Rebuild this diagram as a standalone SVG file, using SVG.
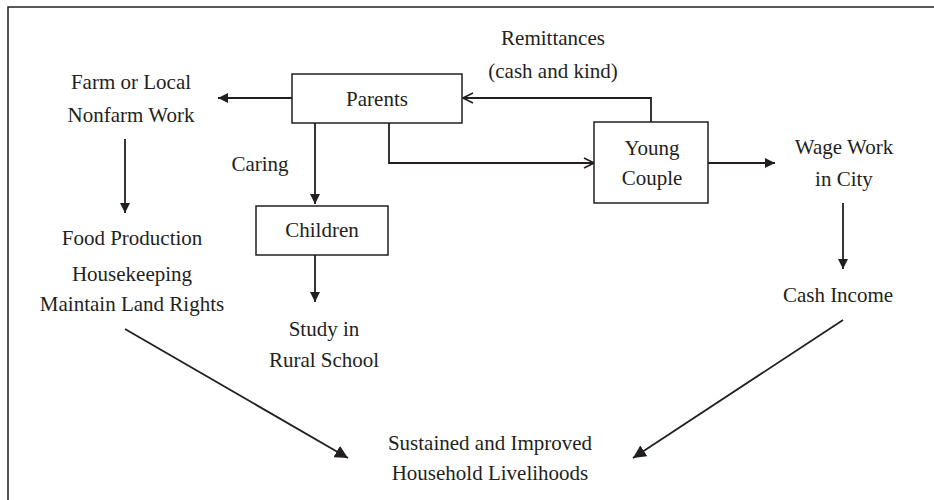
<svg xmlns="http://www.w3.org/2000/svg" width="934" height="500" viewBox="0 0 934 500">
<defs>
<style>
text{font-family:"Liberation Serif","Times New Roman",serif;font-size:21px;fill:#231f20;text-anchor:middle}
.box{fill:#fff;stroke:#231f20;stroke-width:1.5}
.ln{fill:none;stroke:#231f20;stroke-width:1.8}
</style>
<marker id="fa" viewBox="0 0 10 10" refX="10" refY="5" markerWidth="10" markerHeight="10" markerUnits="userSpaceOnUse" orient="auto">
<path d="M0,0 L10,5 L0,10 Z" fill="#231f20"/>
</marker>
<marker id="fb" viewBox="0 0 12 12" refX="12" refY="6" markerWidth="13" markerHeight="13" markerUnits="userSpaceOnUse" orient="auto">
<path d="M0,0 L12,6 L0,12 Z" fill="#231f20"/>
</marker>
<marker id="oa" viewBox="0 0 12 12" refX="11" refY="6" markerWidth="12" markerHeight="12" markerUnits="userSpaceOnUse" orient="auto">
<path d="M1,1 L11,6 L1,11" fill="none" stroke="#231f20" stroke-width="1.6"/>
</marker>
</defs>
<rect width="934" height="500" fill="#fff"/>
<path d="M8,520 V7 H950" fill="none" stroke="#231f20" stroke-width="1.5"/>

<g id="connectors">
<line class="ln" x1="292" y1="98" x2="218" y2="98" marker-end="url(#fa)"/>
<line class="ln" x1="125" y1="139" x2="125" y2="213" marker-end="url(#fa)"/>
<line class="ln" x1="315" y1="123" x2="315" y2="204" marker-end="url(#fa)"/>
<line class="ln" x1="315" y1="255" x2="315" y2="302" marker-end="url(#fa)"/>
<path class="ln" d="M389,123 V163 H594" marker-end="url(#oa)"/>
<path class="ln" d="M651,122 V98 H463" marker-end="url(#oa)"/>
<line class="ln" x1="708" y1="163" x2="775" y2="163" marker-end="url(#fa)"/>
<line class="ln" x1="843" y1="203" x2="843" y2="269" marker-end="url(#fa)"/>
<line class="ln" x1="125" y1="329" x2="348" y2="458" marker-end="url(#fb)"/>
<line class="ln" x1="843" y1="320" x2="633" y2="458" marker-end="url(#fb)"/>
</g>

<g id="parents">
<rect class="box" x="292" y="74" width="170" height="49"/>
<text x="377" y="106">Parents</text>
</g>
<g id="children">
<rect class="box" x="256" y="206" width="132" height="49"/>
<text x="322" y="237">Children</text>
</g>
<g id="young-couple">
<rect class="box" x="594" y="122" width="114" height="81"/>
<text x="652" y="155">Young</text>
<text x="652" y="185">Couple</text>
</g>
<g id="farm-work">
<text x="131" y="89">Farm or Local</text>
<text x="131" y="122">Nonfarm Work</text>
</g>
<g id="food-production">
<text x="132" y="245">Food Production</text>
<text x="132" y="281">Housekeeping</text>
<text x="132" y="311">Maintain Land Rights</text>
</g>
<g id="caring-label">
<text x="260" y="171">Caring</text>
</g>
<g id="study">
<text x="324" y="336">Study in</text>
<text x="324" y="367">Rural School</text>
</g>
<g id="remittances-label">
<text x="553" y="45">Remittances</text>
<text x="553" y="78">(cash and kind)</text>
</g>
<g id="wage-work">
<text x="844" y="154">Wage Work</text>
<text x="844" y="186">in City</text>
</g>
<g id="cash-income">
<text x="838" y="302">Cash Income</text>
</g>
<g id="livelihoods">
<text x="490" y="450">Sustained and Improved</text>
<text x="490" y="480">Household Livelihoods</text>
</g>
</svg>
